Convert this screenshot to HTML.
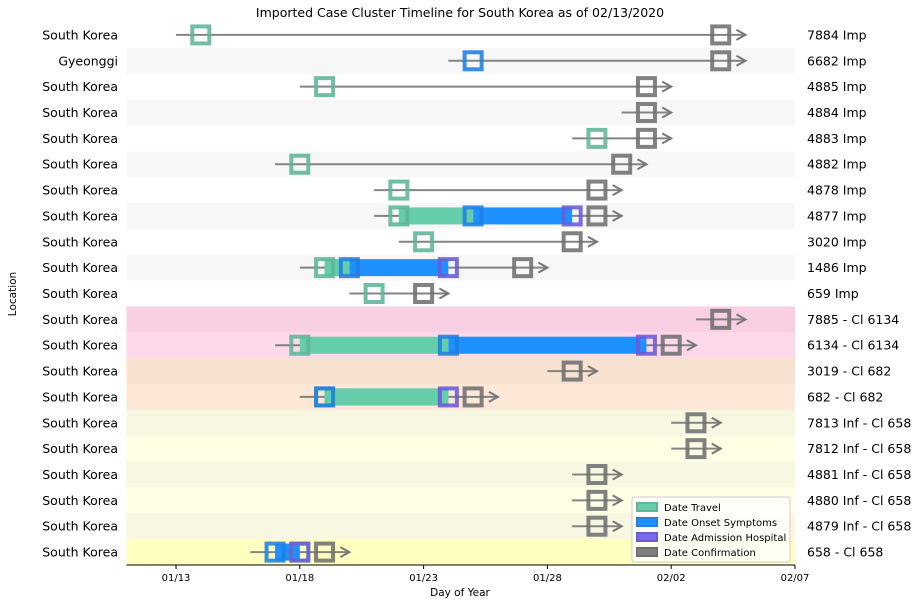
<!DOCTYPE html>
<html><head><meta charset="utf-8">
<style>
body{margin:0;background:#fff;font-family:"Liberation Sans",sans-serif;}
svg text{font-family:"DejaVu Sans","Liberation Sans",sans-serif;}
</style></head>
<body>
<svg id="chart" width="918" height="604">
<text x="460" y="17" text-anchor="middle" font-size="12.5" fill="#000">Imported Case Cluster Timeline for South Korea as of 02/13/2020</text>
<text x="16" y="294" text-anchor="middle" font-size="10.5" transform="rotate(-90 16 294)">Location</text>
<text x="460" y="596" text-anchor="middle" font-size="10.5">Day of Year</text>
<g id="rows"></g><g id="marks"></g><g id="axis"></g>
<g>
<rect x="632" y="497" width="158" height="65" fill="#fff" fill-opacity="0.8" stroke="#ccc" rx="2"/>
<g><rect x="637" y="503" width="20" height="8" fill="#66cdaa" stroke="#66b39a" stroke-width="2"/><text x="664" y="511" font-size="10">Date Travel</text></g>
<g><rect x="637" y="518" width="20" height="8" fill="#1e90ff" stroke="#2b7fd6" stroke-width="2"/><text x="664" y="526" font-size="10">Date Onset Symptoms</text></g>
<g><rect x="637" y="533" width="20" height="8" fill="#7b68ee" stroke="#6a5ccc" stroke-width="2"/><text x="664" y="541" font-size="10">Date Admission Hospital</text></g>
<g><rect x="637" y="548" width="20" height="8" fill="#808080" stroke="#707070" stroke-width="2"/><text x="664" y="556" font-size="10">Date Confirmation</text></g>
</g>
</svg>
<script>
// days as day-of-year (Jan 1 = 1), null = missing
const leftLabels=["South Korea","Gyeonggi","South Korea","South Korea","South Korea","South Korea","South Korea","South Korea","South Korea","South Korea","South Korea","South Korea","South Korea","South Korea","South Korea","South Korea","South Korea","South Korea","South Korea","South Korea","South Korea"];
const rightLabels=["7884 Imp","6682 Imp","4885 Imp","4884 Imp","4883 Imp","4882 Imp","4878 Imp","4877 Imp","3020 Imp","1486 Imp","659 Imp","7885 - Cl 6134","6134 - Cl 6134","3019 - Cl 682","682 - Cl 682","7813 Inf - Cl 658","7812 Inf - Cl 658","4881 Inf - Cl 658","4880 Inf - Cl 658","4879 Inf - Cl 658","658 - Cl 658"];
const travel=[14,null,19,null,30,18,22,22,23,19,21,null,18,null,19,null,null,null,null,null,18];
const onset=[null,25,null,null,null,null,null,25,null,20,null,null,24,null,19,null,null,null,null,null,17];
const admission=[null,null,null,null,null,null,null,29,null,24,null,null,32,null,24,null,null,null,null,null,18];
const confirm=[35,35,32,32,32,31,30,30,29,27,23,35,33,29,25,34,34,30,30,30,19];
const rowColors=["#ffffff","#f7f7f7","#ffffff","#f7f7f7","#ffffff","#f7f7f7","#ffffff","#f7f7f7","#ffffff","#f7f7f7","#ffffff","#f8cfe3","#fdd7ea","#f7e1d0","#fde7d6","#f7f7e2","#ffffe6","#f7f7e2","#ffffe6","#f7f7e2","#ffffc0"];
const tickDays=[13,18,23,28,33,38];
const tickLabels=["01/13","01/18","01/23","01/28","02/02","02/07"];

const NS="http://www.w3.org/2000/svg";
const X0=126.5,X1=795,D0=11,D1=38,Y0=22,Y1=565,N=leftLabels.length,RH=(Y1-Y0)/N;
const xs=d=>X0+(d-D0)*(X1-X0)/(D1-D0);
const yc=i=>Y0+RH*(i+0.5);
function mk(tag,attrs,parent){const e=document.createElementNS(NS,tag);for(const k in attrs)e.setAttribute(k,attrs[k]);parent.appendChild(e);return e;}
const rows=document.getElementById('rows'),marks=document.getElementById('marks'),axis=document.getElementById('axis');
for(let i=0;i<N;i++){
  const r=mk('rect',{x:X0,y:Y0+RH*i,width:X1-X0,height:RH+0.5,fill:rowColors[i]},rows);
  
  
  const l=mk('text',{x:118,y:yc(i)+4.5,'text-anchor':'end','font-size':12.5},axis);l.textContent=leftLabels[i];
  
  
  const rl=mk('text',{x:807,y:yc(i)+4.5,'font-size':12.5},axis);rl.textContent=rightLabels[i];
  
  
}
for(let i=0;i<N;i++){
  const g=mk('g',{},marks);
  
  
  const y=yc(i);
  const ds=[travel[i],onset[i],admission[i],confirm[i]].filter(v=>v!=null);
  const mn=Math.min(...ds)-1,mx=Math.max(...ds)+1;
  mk('line',{x1:xs(mn),y1:y,x2:xs(mx),y2:y,stroke:'#777',"stroke-width":2,"stroke-opacity":0.9},g);
  mk('polyline',{points:`${xs(mx)-9},${y-5} ${xs(mx)},${y} ${xs(mx)-9},${y+5}`,fill:'none',stroke:'#777',"stroke-width":2},g);
  // onset bar first
  if(onset[i]!=null&&admission[i]!=null&&admission[i]>onset[i]){const b=mk('rect',{x:xs(onset[i]),y:y-8.5,width:xs(admission[i])-xs(onset[i]),height:17,fill:'#1e90ff'},g);
    
    }
  if(travel[i]!=null){const end=onset[i]!=null&&onset[i]>travel[i]?onset[i]:(admission[i]!=null&&admission[i]>travel[i]?admission[i]:null);
    if(end!=null){const b=mk('rect',{x:xs(travel[i]),y:y-8.5,width:xs(end)-xs(travel[i]),height:17,fill:'#66cdaa'},g);
      
      }}
  const boxes=[[travel[i],'#5fb597','travel-box'],[onset[i],'#1e7fe0','onset-box'],[admission[i],'#6a5ad8','admission-box'],[confirm[i],'#707070','confirmation-box']];
  for(const [d,c,n] of boxes){ if(d==null)continue;
    const b=mk('rect',{x:xs(d)-8.5,y:y-8.5,width:17,height:17,fill:'none',stroke:c,"stroke-width":4,"stroke-opacity":0.88},g);
    
    }
}
mk('line',{x1:X0,y1:Y1,x2:X1,y2:Y1,stroke:'#000','stroke-width':1},axis);
tickDays.forEach((d,k)=>{
  mk('line',{x1:xs(d),y1:Y1,x2:xs(d),y2:Y1+4,stroke:'#000'},axis);
  const t=mk('text',{x:xs(d),y:Y1+16,'text-anchor':'middle','font-size':10},axis);t.textContent=tickLabels[k];
  
  
});
</script>
</body></html>
